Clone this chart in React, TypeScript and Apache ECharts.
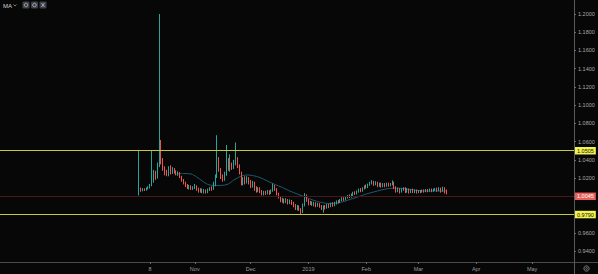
import React, { useEffect, useRef } from 'react';
import * as echarts from 'echarts';

// ---- axis range (daily categories) ----
const axisStart = '2018-07-20';
const axisEnd = '2019-05-23';
const candleStart = '2018-10-02';

// tick labels
const xLabels: Record<string, string> = {
  '2018-10-08': '8',
  '2018-11-01': 'Nov',
  '2018-12-01': 'Dec',
  '2019-01-01': '2019',
  '2019-02-01': 'Feb',
  '2019-03-01': 'Mar',
  '2019-04-01': 'Apr',
  '2019-05-01': 'May',
};
const yTicks = [0.94, 0.96, 0.98, 1.0, 1.02, 1.04, 1.06, 1.08, 1.1, 1.12, 1.14, 1.16, 1.18, 1.2];
const yMin = 0.92793;
const yMax = 1.21536;

// horizontal levels
const levelHigh = 1.0505;
const levelLow = 0.979;
const lastPrice = 1.0045;

// daily candles [open, close, low, high] from 2018-10-02
const candlesOct = [
  [1.0060, 1.0085, 1.0010, 1.0508], [1.0085, 1.0065, 1.0050, 1.0095], [1.0065, 1.0078, 1.0055, 1.0090],
  [1.0078, 1.0070, 1.0058, 1.0088], [1.0070, 1.0088, 1.0062, 1.0098], [1.0088, 1.0095, 1.0075, 1.0110],
  [1.0095, 1.0120, 1.0085, 1.0135], [1.0120, 1.0165, 1.0110, 1.0505], [1.0165, 1.0240, 1.0150, 1.0290],
  [1.0240, 1.0205, 1.0180, 1.0280], [1.0205, 1.0340, 1.0195, 1.0370], [1.0340, 1.0460, 1.0320, 1.2000],
  [1.0520, 1.0370, 1.0350, 1.0618], [1.0370, 1.0300, 1.0280, 1.0420], [1.0300, 1.0260, 1.0230, 1.0330],
  [1.0260, 1.0235, 1.0220, 1.0290], [1.0235, 1.0290, 1.0220, 1.0330], [1.0290, 1.0260, 1.0240, 1.0340],
  [1.0260, 1.0300, 1.0245, 1.0320], [1.0300, 1.0270, 1.0250, 1.0310], [1.0270, 1.0240, 1.0230, 1.0285],
  [1.0240, 1.0260, 1.0225, 1.0275], [1.0260, 1.0215, 1.0200, 1.0265], [1.0215, 1.0180, 1.0160, 1.0225],
  [1.0180, 1.0150, 1.0130, 1.0190], [1.0150, 1.0125, 1.0100, 1.0160], [1.0125, 1.0100, 1.0080, 1.0135],
  [1.0100, 1.0110, 1.0075, 1.0125], [1.0110, 1.0085, 1.0070, 1.0120], [1.0085, 1.0095, 1.0070, 1.0110],
];
const candlesNov = [
  [1.0095, 1.0110, 1.0080, 1.0135], [1.0110, 1.0080, 1.0060, 1.0120], [1.0080, 1.0060, 1.0040, 1.0095],
  [1.0060, 1.0075, 1.0040, 1.0090], [1.0075, 1.0050, 1.0035, 1.0085], [1.0050, 1.0065, 1.0030, 1.0080],
  [1.0065, 1.0045, 1.0030, 1.0075], [1.0045, 1.0070, 1.0035, 1.0085], [1.0070, 1.0090, 1.0060, 1.0100],
  [1.0090, 1.0075, 1.0060, 1.0110], [1.0075, 1.0130, 1.0070, 1.0160], [1.0120, 1.0220, 1.0110, 1.0240],
  [1.0220, 1.0400, 1.0200, 1.0670], [1.0400, 1.0290, 1.0270, 1.0430], [1.0290, 1.0210, 1.0190, 1.0310],
  [1.0210, 1.0180, 1.0160, 1.0240], [1.0180, 1.0240, 1.0170, 1.0270], [1.0240, 1.0380, 1.0225, 1.0563],
  [1.0380, 1.0300, 1.0280, 1.0420], [1.0300, 1.0350, 1.0270, 1.0460], [1.0340, 1.0310, 1.0290, 1.0370],
  [1.0310, 1.0370, 1.0300, 1.0400], [1.0370, 1.0400, 1.0340, 1.0590], [1.0400, 1.0330, 1.0310, 1.0430],
  [1.0330, 1.0260, 1.0240, 1.0350], [1.0260, 1.0140, 1.0120, 1.0270], [1.0140, 1.0190, 1.0120, 1.0210],
  [1.0190, 1.0150, 1.0130, 1.0220], [1.0150, 1.0200, 1.0140, 1.0220], [1.0200, 1.0160, 1.0130, 1.0210],
];
const candlesDec = [
  [1.0160, 1.0110, 1.0090, 1.0180], [1.0110, 1.0150, 1.0095, 1.0170], [1.0150, 1.0080, 1.0060, 1.0160],
  [1.0080, 1.0060, 1.0040, 1.0110], [1.0060, 1.0090, 1.0045, 1.0100], [1.0090, 1.0050, 1.0035, 1.0100],
  [1.0050, 1.0025, 1.0010, 1.0070], [1.0025, 1.0045, 1.0010, 1.0060], [1.0045, 1.0030, 1.0015, 1.0060],
  [1.0030, 1.0055, 1.0020, 1.0070], [1.0055, 1.0035, 1.0015, 1.0065], [1.0035, 1.0060, 1.0025, 1.0075],
  [1.0060, 1.0110, 1.0050, 1.0140], [1.0110, 1.0080, 1.0060, 1.0125], [1.0080, 1.0030, 1.0010, 1.0090],
  [1.0030, 0.9990, 0.9975, 1.0040], [0.9990, 0.9950, 0.9935, 1.0000], [0.9950, 0.9965, 0.9930, 0.9985],
  [0.9965, 0.9940, 0.9920, 0.9975], [0.9940, 0.9960, 0.9925, 0.9980], [0.9960, 0.9930, 0.9910, 0.9970],
  [0.9930, 0.9950, 0.9915, 0.9965], [0.9950, 0.9925, 0.9905, 0.9960], [0.9925, 0.9900, 0.9880, 0.9940],
  [0.9900, 0.9870, 0.9850, 0.9915], [0.9870, 0.9890, 0.9845, 0.9905], [0.9890, 0.9860, 0.9840, 0.9900],
  [0.9860, 0.9830, 0.9795, 0.9870], [0.9830, 0.9900, 0.9815, 0.9920], [0.9900, 1.0010, 0.9890, 1.0035],
  [1.0010, 0.9960, 0.9940, 1.0020],
];
const candlesJan = [
  [0.9960, 0.9920, 0.9900, 0.9970], [0.9920, 0.9935, 0.9905, 0.9950], [0.9935, 0.9910, 0.9895, 0.9945],
  [0.9910, 0.9925, 0.9890, 0.9940], [0.9925, 0.9900, 0.9880, 0.9935], [0.9900, 0.9915, 0.9885, 0.9930],
  [0.9915, 0.9895, 0.9875, 0.9925], [0.9895, 0.9870, 0.9850, 0.9905], [0.9870, 0.9890, 0.9820, 0.9900],
  [0.9890, 0.9875, 0.9855, 0.9905], [0.9875, 0.9905, 0.9865, 0.9915], [0.9905, 0.9890, 0.9870, 0.9920],
  [0.9890, 0.9915, 0.9880, 0.9930], [0.9915, 0.9900, 0.9885, 0.9935], [0.9900, 0.9925, 0.9890, 0.9940],
  [0.9925, 0.9945, 0.9910, 0.9955], [0.9945, 0.9935, 0.9920, 0.9960], [0.9935, 0.9960, 0.9925, 0.9970],
  [0.9960, 0.9975, 0.9945, 0.9990], [0.9975, 0.9965, 0.9950, 0.9990], [0.9965, 0.9990, 0.9955, 1.0000],
  [0.9990, 1.0005, 0.9975, 1.0015], [1.0005, 0.9995, 0.9980, 1.0020], [0.9995, 1.0020, 0.9985, 1.0030],
  [1.0020, 1.0040, 1.0005, 1.0050], [1.0040, 1.0030, 1.0015, 1.0055], [1.0030, 1.0055, 1.0020, 1.0065],
  [1.0055, 1.0070, 1.0040, 1.0085], [1.0070, 1.0060, 1.0045, 1.0090], [1.0060, 1.0090, 1.0050, 1.0100],
  [1.0090, 1.0110, 1.0075, 1.0120],
];
const candlesFeb = [
  [1.0110, 1.0100, 1.0085, 1.0130], [1.0100, 1.0130, 1.0090, 1.0140], [1.0130, 1.0150, 1.0115, 1.0160],
  [1.0145, 1.0160, 1.0130, 1.0178], [1.0160, 1.0130, 1.0115, 1.0170], [1.0130, 1.0150, 1.0120, 1.0165],
  [1.0150, 1.0120, 1.0100, 1.0160], [1.0120, 1.0140, 1.0105, 1.0150], [1.0140, 1.0110, 1.0095, 1.0150],
  [1.0110, 1.0135, 1.0100, 1.0145], [1.0135, 1.0115, 1.0100, 1.0145], [1.0115, 1.0140, 1.0105, 1.0150],
  [1.0140, 1.0120, 1.0105, 1.0150], [1.0120, 1.0135, 1.0110, 1.0145], [1.0135, 1.0150, 1.0120, 1.0175],
  [1.0150, 1.0100, 1.0080, 1.0160], [1.0100, 1.0060, 1.0040, 1.0110], [1.0060, 1.0080, 1.0045, 1.0095],
  [1.0080, 1.0050, 1.0030, 1.0090], [1.0050, 1.0075, 1.0040, 1.0090], [1.0075, 1.0090, 1.0060, 1.0100],
  [1.0090, 1.0055, 1.0035, 1.0100], [1.0055, 1.0075, 1.0040, 1.0090], [1.0075, 1.0045, 1.0030, 1.0085],
  [1.0045, 1.0070, 1.0035, 1.0080], [1.0070, 1.0050, 1.0035, 1.0085], [1.0050, 1.0065, 1.0035, 1.0075],
  [1.0065, 1.0045, 1.0030, 1.0075],
];
const candlesMar = [
  [1.0045, 1.0060, 1.0035, 1.0070], [1.0060, 1.0050, 1.0035, 1.0070], [1.0050, 1.0065, 1.0040, 1.0075],
  [1.0065, 1.0055, 1.0040, 1.0075], [1.0055, 1.0070, 1.0045, 1.0080], [1.0070, 1.0060, 1.0045, 1.0080],
  [1.0060, 1.0075, 1.0050, 1.0085], [1.0075, 1.0060, 1.0045, 1.0085], [1.0060, 1.0075, 1.0050, 1.0085],
  [1.0075, 1.0080, 1.0060, 1.0090], [1.0080, 1.0065, 1.0050, 1.0095], [1.0065, 1.0085, 1.0055, 1.0100],
  [1.0085, 1.0060, 1.0040, 1.0095], [1.0060, 1.0080, 1.0050, 1.0105], [1.0080, 1.0060, 1.0030, 1.0100],
  [1.0060, 1.0045, 1.0020, 1.0075],
];

// moving average, read at points
const maPoints: [string, number][] = [
  ['2018-10-22', 1.0245], ['2018-10-26', 1.0250], ['2018-10-30', 1.0245], ['2018-11-02', 1.0212],
  ['2018-11-05', 1.0168], ['2018-11-08', 1.0130], ['2018-11-11', 1.0119], ['2018-11-15', 1.0119],
  ['2018-11-19', 1.0135], ['2018-11-22', 1.0179], ['2018-11-26', 1.0223], ['2018-11-29', 1.0234],
  ['2018-12-02', 1.0228], ['2018-12-06', 1.0206], ['2018-12-10', 1.0168], ['2018-12-14', 1.0130],
  ['2018-12-18', 1.0097], ['2018-12-22', 1.0058], ['2018-12-26', 1.0025], ['2018-12-31', 0.9987],
  ['2019-01-04', 0.9954], ['2019-01-08', 0.9932], ['2019-01-12', 0.9921], ['2019-01-16', 0.9926],
  ['2019-01-20', 0.9943], ['2019-01-24', 0.9970], ['2019-01-28', 0.9997], ['2019-02-01', 1.0025],
  ['2019-02-05', 1.0047], ['2019-02-09', 1.0069], ['2019-02-13', 1.0085], ['2019-02-17', 1.0091],
  ['2019-02-21', 1.0085], ['2019-02-25', 1.0074], ['2019-03-01', 1.0063], ['2019-03-05', 1.0058],
  ['2019-03-10', 1.0058], ['2019-03-16', 1.0058],
];

function parseDay(s: string) {
  const [y, m, d] = s.split('-').map(Number);
  return Date.UTC(y, m - 1, d);
}
function buildDates(a: string, b: string) {
  const out: string[] = [];
  for (let t = parseDay(a); t <= parseDay(b); t += 86400000) {
    out.push(new Date(t).toISOString().slice(0, 10));
  }
  return out;
}

export default function App() {
  const ref = useRef<HTMLDivElement>(null);
  useEffect(() => {
    if (!ref.current) return;
    const chart = echarts.init(ref.current, undefined, { renderer: 'svg' });
    const dates = buildDates(axisStart, axisEnd);
    const startIdx = dates.indexOf(candleStart);
    const allCandles = [...candlesOct, ...candlesNov, ...candlesDec, ...candlesJan, ...candlesFeb, ...candlesMar];
    const candleData = allCandles.map((c, i) => [startIdx + i, c[0], c[1], c[2], c[3]]);
    const maData = maPoints.map(([d, v]) => [dates.indexOf(d), v]);
    const font = 'Liberation Sans, Arial, sans-serif';
    const showLabel = (_i: number, v: string) => v in xLabels;

    const levelLabel = (bg: string, fg: string, v: number) => ({
      show: true,
      position: 'end',
      distance: 1,
      formatter: v.toFixed(4),
      backgroundColor: bg,
      color: fg,
      fontSize: 5.5,
      fontFamily: font,
      padding: [1, 2, 0.5, 2],
      lineHeight: 6,
    });

    chart.setOption({
      animation: false,
      backgroundColor: '#070707',
      grid: { left: 0, right: 24, top: 0, bottom: 12 },
      xAxis: {
        type: 'category',
        data: dates,
        boundaryGap: true,
        axisLine: { show: true, lineStyle: { color: '#4a4a4a', width: 1 } },
        axisTick: { show: true, interval: showLabel, alignWithLabel: true, length: 2, lineStyle: { color: '#6a6a6a' } },
        axisLabel: {
          interval: showLabel,
          formatter: (v: string) => xLabels[v] ?? '',
          color: '#9a9a9a',
          fontSize: 5.5,
          fontFamily: font,
          margin: 4,
        },
        splitLine: { show: false },
      },
      yAxis: {
        type: 'value',
        position: 'right',
        min: yMin,
        max: yMax,
        axisLine: { show: true, lineStyle: { color: '#5a5a5a', width: 1 } },
        axisTick: { show: true, length: 2, customValues: yTicks, lineStyle: { color: '#6a6a6a' } },
        axisLabel: {
          customValues: yTicks,
          formatter: (v: number) => v.toFixed(4),
          color: '#a8a8a8',
          fontSize: 5.5,
          fontFamily: font,
          margin: 4,
        },
        splitLine: { show: false },
      },
      series: [
        {
          type: 'line',
          data: maData,
          smooth: 0.3,
          showSymbol: false,
          symbol: 'none',
          lineStyle: { color: '#1f5870', width: 1 },
          z: 3,
        },
        {
          type: 'candlestick',
          data: candleData,
          encode: { x: 0, y: [1, 2, 3, 4] },
          barWidth: 0.5,
          itemStyle: {
            color: '#26a69a',
            color0: '#ef5350',
            borderColor: '#26a69a',
            borderColor0: '#ef5350',
            borderWidth: 1,
          },
          z: 4,
          markLine: {
            symbol: 'none',
            silent: true,
            animation: false,
            data: [
              { yAxis: lastPrice, lineStyle: { color: '#4a1717', width: 1, type: 'solid' }, label: levelLabel('#e95f5b', '#ffffff', lastPrice) },
              { yAxis: levelHigh, lineStyle: { color: '#c8c83a', width: 1, type: 'solid' }, label: levelLabel('#f2f250', '#111111', levelHigh) },
              { yAxis: levelLow, lineStyle: { color: '#c8c83a', width: 1, type: 'solid' }, label: levelLabel('#f2f250', '#111111', levelLow) },
            ],
          },
        },
      ],
      graphic: [
        { type: 'line', shape: { x1: 574, y1: 262.5, x2: 598, y2: 262.5 }, style: { stroke: '#4a4a4a', lineWidth: 1 }, silent: true },
        { type: 'line', shape: { x1: 574.5, y1: 262, x2: 574.5, y2: 274 }, style: { stroke: '#5a5a5a', lineWidth: 1 }, silent: true },
        { type: 'text', left: 3, top: 2.5, style: { text: 'MA', fill: '#d1d4dc', fontSize: 6, fontFamily: font } },
        { type: 'polyline', shape: { points: [[13.5, 4.5], [15, 6], [16.5, 4.5]] }, style: { stroke: '#9a9a9a', lineWidth: 0.8, fill: 'none' } },
        { type: 'rect', shape: { x: 22.5, y: 1.5, width: 7, height: 7, r: 1 }, style: { fill: '#3d4049' } },
        { type: 'rect', shape: { x: 31, y: 1.5, width: 7, height: 7, r: 1 }, style: { fill: '#3d4049' } },
        { type: 'rect', shape: { x: 39.5, y: 1.5, width: 7, height: 7, r: 1 }, style: { fill: '#3d4049' } },
        { type: 'circle', shape: { cx: 26, cy: 5, r: 1.8 }, style: { stroke: '#b0b3bb', lineWidth: 0.8, fill: 'none' } },
        { type: 'circle', shape: { cx: 34.5, cy: 5, r: 1.8 }, style: { stroke: '#b0b3bb', lineWidth: 0.9, fill: 'none' } },
        { type: 'line', shape: { x1: 41.5, y1: 3, x2: 44.5, y2: 7 }, style: { stroke: '#b0b3bb', lineWidth: 0.9 } },
        { type: 'line', shape: { x1: 44.5, y1: 3, x2: 41.5, y2: 7 }, style: { stroke: '#b0b3bb', lineWidth: 0.9 } },
        { type: 'circle', shape: { cx: 586.5, cy: 268.5, r: 2.6 }, style: { stroke: '#9a9a9a', lineWidth: 0.8, fill: 'none' } },
        { type: 'circle', shape: { cx: 586.5, cy: 268.5, r: 0.9 }, style: { stroke: '#9a9a9a', lineWidth: 0.6, fill: 'none' } },
      ],
    });
    return () => chart.dispose();
  }, []);
  return <div ref={ref} style={{ position: 'fixed', left: 0, top: 0, width: 598, height: 274 }} />;
}
